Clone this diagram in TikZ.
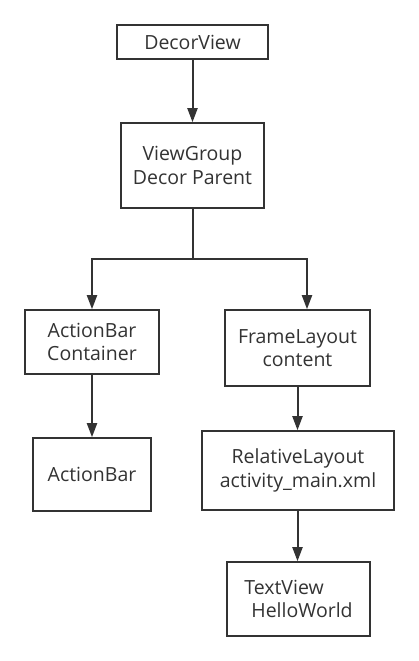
\documentclass[tikz,border=0pt]{standalone}
\usepackage{fontspec}
\setmainfont{Open Sans}
\usetikzlibrary{arrows.meta}
\definecolor{ink}{HTML}{333333}
\tikzset{
  box/.style={draw=ink, line width=1.6pt, inner sep=0pt, align=center,
    font=\fontsize{19.5}{23.5}\selectfont, text=ink},
  conn/.style={draw=ink, line width=2pt, -{Triangle[length=14pt,width=10pt]}},
  plain/.style={draw=ink, line width=2pt}
}
\begin{document}
\begin{tikzpicture}[x=1pt,y=-1pt]
\useasboundingbox[fill=white] (0,0) rectangle (419,661);
\node[box, minimum width=151pt, minimum height=34pt] (decor) at (192.5,42) {DecorView};
\node[box, minimum width=143pt, minimum height=85pt] (vg) at (192.5,165.5) {ViewGroup\\Decor Parent};
\node[box, minimum width=134pt, minimum height=64pt] (abc) at (92,342) {ActionBar\\Container};
\node[box, minimum width=145pt, minimum height=76pt] (fl) at (297.5,348) {FrameLayout\\content};
\node[box, minimum width=118pt, minimum height=73pt] (ab) at (92,474.5) {ActionBar};
\node[box, minimum width=192pt, minimum height=79pt] (rl) at (298,470.5) {RelativeLayout\\activity\_main.xml};
\node[box, minimum width=143pt, minimum height=74pt, align=left] (tv) at (298.5,599) {TextView\\\hspace*{7pt}HelloWorld};
\coordinate (split) at (192.5,259);
\coordinate (rtop) at (307,259);
\draw[conn] (decor.south) -- (vg.north);
\draw[plain] (vg.south) -- (split);
\draw[conn] (split) -| (abc.north);
\draw[conn] (split) -- (rtop) -- (rtop |- fl.north);
\draw[conn] (abc.south) -- (ab.north);
\draw[conn] (fl.south) -- (rl.north -| fl.south);
\draw[conn] (rl.south -| fl.south) -- (tv.north -| fl.south);
\end{tikzpicture}
\end{document}
